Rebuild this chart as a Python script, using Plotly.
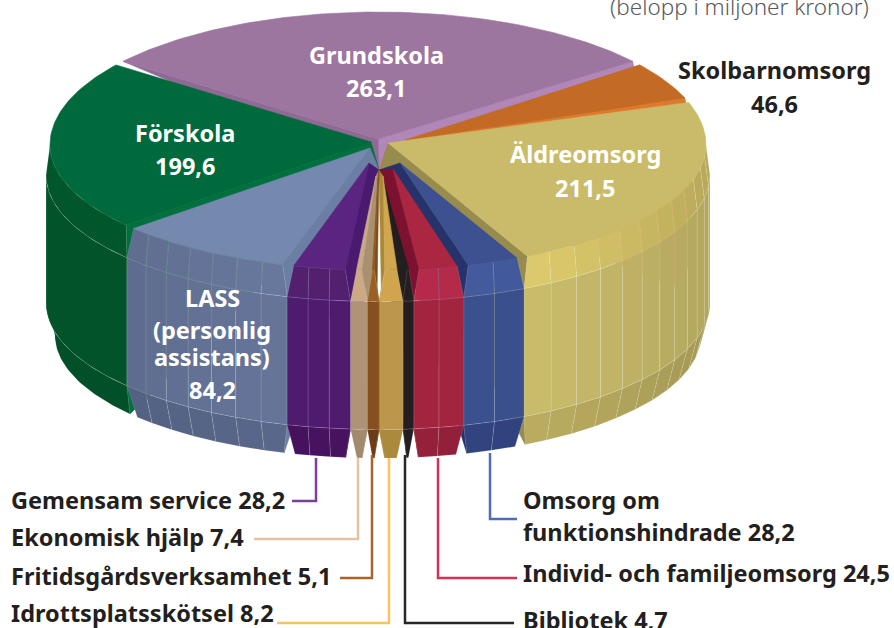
import math
import plotly.graph_objects as go

# ---------- data ----------
names = ["Grundskola", "Skolbarnomsorg", "Äldreomsorg", "Omsorg om funktionshindrade",
         "Individ- och familjeomsorg", "Bibliotek", "Idrottsplatsskötsel",
         "Fritidsgårdsverksamhet", "Ekonomisk hjälp", "Gemensam service",
         "LASS (personlig assistans)", "Förskola"]
values = [263.1, 46.6, 211.5, 28.2, 24.5, 4.7, 8.2, 5.1, 7.4, 28.2, 84.2, 199.6]

# ---------- styles (top, wall, band, side, bottom) ----------
top_col = ["#9c769f", "#c36a24", "#c9bb69", "#3d5190", "#ab2641", "#231f20",
           "#d1a74e", "#8f5a22", "#c8a98a", "#5b2480", "#7588ae", "#016a3c"]
wall_col = ["#b186b8", "#df7a2c", "#978c4e", "#26336a", "#7c1230", "#231f20",
            "#a98838", "#7c4d1c", "#a9906f", "#4a1a70", "#6b7ea4", "#00703f"]
band_col = ["#9c769f", "#c36a24", "#e6d370", "#445ca0", "#b62a4a", "#231f20",
            "#d0a54e", "#9a5f25", "#cba985", "#53206f", "#6a7aa0", "#02562c"]
side_col = ["#9c769f", "#c36a24", "#cfc16e", "#3b5290", "#a3243f", "#231f20",
            "#bc964b", "#864f1f", "#ae9377", "#4f1b6f", "#66769a", "#02522a"]
bott_col = ["#9c769f", "#c36a24", "#bfb162", "#324581", "#94203a", "#231f20",
            "#ac8a3d", "#6b3d17", "#a28a6d", "#47125f", "#5a698c", "#02502a"]
facets = [1, 1, 12, 2, 2, 1, 1, 1, 1, 3, 7, 1]
apex_x = [378, 405, 388, 400, 393, 381, 383, 378, 376, 369, 370, 371]
apex_y = [139, 140, 143, 163, 169, 172, 176, 178, 176, 163, 148, 142]
draw_order = [0, 1, 11, 2, 10, 9, 3, 4, 8, 5, 6, 7]
# small drawing adjustment (degrees) of the boundary after each slice
edge_nudge = [0, 0, 0, 0, -0.9, -0.9, 0, 0, 0, 0, 0, 0]

CX, CY, RX, RY_BACK, RY_FRONT = 378, 145, 328, 133, 125
PX, PY = 379, 170
START = -52
VIS_MIN, VIS_MAX = 90, 270
# level: (radius factor, drop in px)
RIM, BAND, LOWER, BOTTOM = (1, 0), (1.012, 30), (1.012, 158), (0.985, 190)


def proj(theta, level):
    t = math.radians(theta)
    r, drop = level
    ry = RY_BACK if math.cos(t) > 0 else RY_FRONT
    return CX + RX * r * math.sin(t), CY - ry * r * math.cos(t) + drop


def arc(t0, t1, level):
    n = max(2, int(abs(t1 - t0)) + 2)
    return [proj(t0 + (t1 - t0) * i / (n - 1), level) for i in range(n)]


def shade(hex_col, f):
    rgb = [int(hex_col[i:i + 2], 16) for i in (1, 3, 5)]
    return "rgb(%d,%d,%d)" % tuple(round(c * f) for c in rgb)


fig = go.Figure()


def poly(pts, fill, line=None, lw=0.6):
    fig.add_trace(go.Scatter(
        x=[p[0] for p in pts] + [pts[0][0]], y=[p[1] for p in pts] + [pts[0][1]],
        mode="lines", fill="toself", fillcolor=fill,
        line=dict(color=line or fill, width=lw), hoverinfo="skip", showlegend=False))


total = sum(values)
angles = [START]
for v in values:
    angles.append(angles[-1] + v / total * 360)
angles_draw = [a + (edge_nudge[i - 1] if i else 0) for i, a in enumerate(angles)]

for i in draw_order:
    t1, t2 = angles_draw[i], angles_draw[i + 1]
    inset = min(1.0, (t2 - t1) * 0.42)
    A = (apex_x[i], apex_y[i])
    P = (PX, PY)
    # radial wall facing the viewer
    wall_t = t2 if (t1 + t2) / 2 < 180 else t1
    sign = -1 if wall_t == t2 else 1
    poly([A, proj(wall_t + sign * inset, RIM), proj(wall_t, BAND),
          proj(wall_t, LOWER), proj(wall_t + sign * inset, BOTTOM), P], wall_col[i])
    if i == 0:
        poly([A, proj(t1 + inset, RIM), P], "#8f6a95")
    # outer side, split in facets, only where it faces the viewer
    if i not in (0, 1):
        n = facets[i]
        s1, s2 = max(t1, VIS_MIN), min(t2, VIS_MAX)
        edge = "rgba(255,255,255,0.2)"
        for k in range(n):
            a = s1 + (s2 - s1) * k / n
            b = s1 + (s2 - s1) * (k + 1) / n
            mid = (a + b) / 2
            s = abs(math.sin(math.radians(mid))) ** 2
            f = 1 - 0.14 * s if i != 11 else 1
            fb = 1 - 0.2 * s if i != 11 else 1
            a0 = a + inset if a == t1 else a
            b0 = b - inset if b == t2 else b
            poly(arc(a0, b0, BOTTOM) + arc(b, a, LOWER), shade(bott_col[i], f), edge)
            poly(arc(a, b, LOWER) + arc(b, a, BAND), shade(side_col[i], f), edge)
            poly(arc(a, b, BAND) + arc(b0, a0, RIM), shade(band_col[i], fb), edge)
    # top face
    poly([A] + arc(t1 + inset, t2 - inset, RIM), top_col[i])

# ---------- leader lines ----------
leaders = [
    ("#7c3f9c", [316, 316, 292], [458, 501, 501]),
    ("#e5c3a0", [358, 358, 254], [458, 539, 539]),
    ("#a8622a", [372, 372, 340], [455, 578, 578]),
    ("#fbc15e", [389, 389, 277], [458, 623, 623]),
    ("#2a2627", [405, 405, 514], [455, 623, 623]),
    ("#d23258", [438, 438, 517], [458, 578, 578]),
    ("#4f6bbd", [490, 490, 517], [453, 519, 519]),
]
for col, xs, ys in leaders:
    fig.add_trace(go.Scatter(x=xs, y=ys, mode="lines", line=dict(color=col, width=2.5),
                             hoverinfo="skip", showlegend=False))


def val(i):
    return f"{values[i]}".replace(".", ",")


FONT = "Noto Sans"
DARK = "#231f20"
labels = [
    (names[0], 376, 55, "center", "white"), (val(0), 376, 88, "center", "white"),
    (names[11], 185, 133, "center", "white"), (val(11), 185, 166, "center", "white"),
    (names[2], 585, 154, "center", "white"), (val(2), 585, 188, "center", "white"),
    ("LASS", 212, 298, "center", "white"), ("(personlig", 212, 330, "center", "white"),
    ("assistans)", 212, 357, "center", "white"), (val(10), 212, 390, "center", "white"),
    (names[1], 774, 70, "center", DARK), (val(1), 774, 104, "center", DARK),
    (f"{names[9]} {val(9)}", 9, 500, "left", DARK),
    (f"{names[8]} {val(8)}", 9, 537, "left", DARK),
    (f"{names[7]} {val(7)}", 9, 576, "left", DARK),
    (f"{names[6]} {val(6)}", 9, 613, "left", DARK),
    ("Omsorg om", 521, 500, "left", DARK),
    (f"funktionshindrade {val(3)}", 521, 532, "left", DARK),
    (f"{names[4]} {val(4)}", 521, 573, "left", DARK),
    (f"{names[5]} {val(5)}", 521, 620, "left", DARK),
]
for text, x, y, anchor, col in labels:
    fig.add_annotation(x=x, y=y, text=text, showarrow=False, xanchor=anchor, yanchor="middle",
                       xref="x", yref="y",
                       font=dict(family=FONT, size=23.5, color=col, weight="bold"))
fig.add_annotation(x=739, y=6, text="(belopp i miljoner kronor)", showarrow=False,
                   xanchor="center", yanchor="middle", xref="x", yref="y",
                   font=dict(family="Noto Sans", size=22.5, color="#58595b", weight=300))

fig.update_layout(
    width=894, height=628, margin=dict(l=0, r=0, t=0, b=0),
    paper_bgcolor="white", plot_bgcolor="white", showlegend=False,
    xaxis=dict(range=[0, 894], visible=False, fixedrange=True),
    yaxis=dict(range=[628, 0], visible=False, fixedrange=True),
)
fig.write_html("out.html", config={"displayModeBar": False},
               post_script="document.body.style.margin='0';")
